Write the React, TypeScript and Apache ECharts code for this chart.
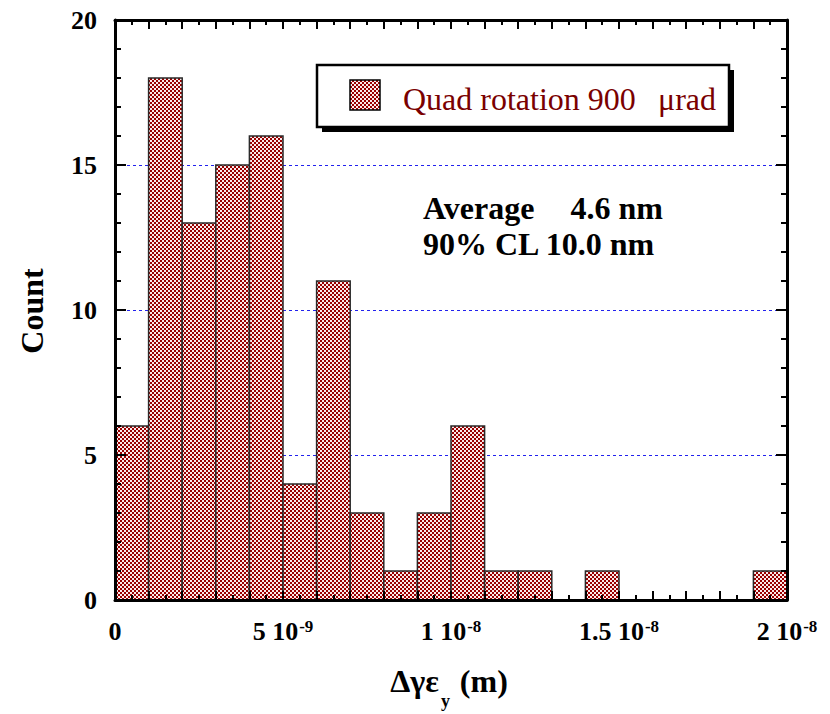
import React, { useEffect, useRef } from 'react';
import * as echarts from 'echarts';

// Bin starts in units of 1e-9 m; each bin is 1e-9 m wide
const binStart = [0, 1, 2, 3, 4, 5, 6, 7, 8, 9, 10, 11, 12, 13, 14, 15, 16, 17, 18, 19];
const binWidth = 1;
const counts = [6, 18, 13, 15, 16, 4, 11, 3, 1, 3, 6, 1, 1, 0, 1, 0, 0, 0, 0, 1];
const legendLabel = 'Quad rotation 900';
const legendUnit = 'μrad';
const statLabel1 = 'Average';
const statValue1 = '4.6 nm';
const statLine2 = '90% CL 10.0 nm';
const yTitle = 'Count';

const SERIF = "'Liberation Serif', 'Times New Roman', Times, serif";

function makePattern() {
  const c = document.createElement('canvas');
  c.width = 4;
  c.height = 4;
  const ctx = c.getContext('2d')!;
  ctx.fillStyle = '#fbeaea';
  ctx.fillRect(0, 0, 4, 4);
  ctx.fillStyle = '#990000';
  ctx.fillRect(0, 0, 2, 2);
  ctx.fillRect(2, 2, 2, 2);
  return { image: c.toDataURL(), repeat: 'repeat', imageWidth: 4, imageHeight: 4 } as any;
}

export default function App() {
  const ref = useRef<HTMLDivElement>(null);
  useEffect(() => {
    if (!ref.current) return;
    const chart = echarts.init(ref.current, null, { renderer: 'svg' });
    const pattern = makePattern();

    const frameAxisX = (pos: 'top' | 'bottom', labels: boolean) => ({
      type: 'value',
      position: pos,
      min: 0,
      max: 20,
      interval: 1,
      z: 10,
      axisLine: { show: true, onZero: false, lineStyle: { color: '#000', width: 3 } },
      axisTick: { show: true, inside: true, length: 9, lineStyle: { color: '#000', width: 2 } },
      minorTick: { show: true, splitNumber: 2, length: 5, lineStyle: { color: '#000', width: 2 } },
      splitLine: { show: false },
      axisLabel: labels
        ? {
            show: true,
            margin: 18,
            formatter: (v: number) => {
              const r = Math.round(v);
              if (r % 5 !== 0) return '';
              if (r === 0) return '{z|0}';
              if (r < 10) return `{n|${r} 10}{s|-9}`;
              return `{n|${r / 10} 10}{s|-8}`;
            },
            rich: {
              n: { fontFamily: SERIF, fontWeight: 'bold', fontSize: 26, lineHeight: 26, color: '#000', verticalAlign: 'bottom' },
              z: { fontFamily: SERIF, fontWeight: 'bold', fontSize: 26, lineHeight: 26, color: '#000', verticalAlign: 'bottom', padding: [5, 0, 0, 0] },
              s: { fontFamily: SERIF, fontWeight: 'bold', fontSize: 17, lineHeight: 17, color: '#000', verticalAlign: 'top', padding: [0, 0, 14, 1] },
            },
          }
        : { show: false },
    });

    const frameAxisY = (pos: 'left' | 'right', labels: boolean) => ({
      type: 'value',
      position: pos,
      min: 0,
      max: 20,
      interval: 5,
      z: 10,
      axisLine: { show: true, onZero: false, lineStyle: { color: '#000', width: 3 } },
      axisTick: { show: true, inside: true, length: 11, lineStyle: { color: '#000', width: 2 } },
      minorTick: { show: true, splitNumber: 5, length: 6, lineStyle: { color: '#000', width: 2 } },
      splitLine: { show: false },
      axisLabel: labels
        ? { show: true, margin: 18, fontFamily: SERIF, fontWeight: 'bold', fontSize: 26, color: '#000' }
        : { show: false },
    });

    const data = binStart
      .map((s, i) => [s, s + binWidth, counts[i]])
      .filter((d) => d[2] > 0);

    chart.setOption({
      animation: false,
      backgroundColor: '#fff',
      grid: { left: 115, top: 20, width: 672, height: 580, containLabel: false },
      xAxis: [frameAxisX('bottom', true), frameAxisX('top', false)],
      yAxis: [
        frameAxisY('left', true),
        frameAxisY('right', false),
        {
          type: 'value',
          position: 'left',
          min: 0,
          max: 20,
          interval: 5,
          z: 0,
          axisLine: { show: false },
          axisTick: { show: false },
          axisLabel: { show: false },
          splitLine: { show: true, lineStyle: { color: '#2222ee', width: 1, type: [3, 3] } },
        },
      ],
      series: [
        {
          type: 'custom',
          xAxisIndex: 0,
          yAxisIndex: 0,
          z: 2,
          data,
          encode: { x: [0, 1], y: 2 },
          renderItem: (params: any, api: any) => {
            const p0 = api.coord([api.value(0), api.value(2)]);
            const p1 = api.coord([api.value(1), 0]);
            return {
              type: 'rect',
              shape: { x: p0[0], y: p0[1], width: p1[0] - p0[0], height: p1[1] - p0[1] },
              style: { fill: pattern, stroke: '#2a2a2a', lineWidth: 1.5 },
            };
          },
        },
      ],
      graphic: [
        // legend shadow
        { type: 'rect', z: 100, shape: { x: 322, y: 70, width: 412, height: 62 }, style: { fill: '#000' } },
        { type: 'rect', z: 101, shape: { x: 317, y: 65, width: 412, height: 62 }, style: { fill: '#fff', stroke: '#000', lineWidth: 2.5 } },
        { type: 'rect', z: 102, shape: { x: 350, y: 80, width: 30, height: 30 }, style: { fill: pattern, stroke: '#000', lineWidth: 1.5 } },
        {
          type: 'text', z: 102, x: 403, y: 99,
          style: { text: legendLabel, font: `32px ${SERIF}`, fill: '#7a0000', align: 'left', verticalAlign: 'middle' },
        },
        {
          type: 'text', z: 102, x: 716, y: 99,
          style: { text: legendUnit, font: `32px ${SERIF}`, fill: '#7a0000', align: 'right', verticalAlign: 'middle' },
        },
        {
          type: 'text', z: 102, x: 423, y: 208,
          style: { text: statLabel1, font: `bold 32px ${SERIF}`, fill: '#000', align: 'left', verticalAlign: 'middle' },
        },
        {
          type: 'text', z: 102, x: 663, y: 208,
          style: { text: statValue1, font: `bold 32px ${SERIF}`, fill: '#000', align: 'right', verticalAlign: 'middle' },
        },
        {
          type: 'text', z: 102, x: 423, y: 244,
          style: { text: statLine2, font: `bold 32px ${SERIF}`, fill: '#000', align: 'left', verticalAlign: 'middle' },
        },
        {
          type: 'text', z: 102, x: 32, y: 311, rotation: Math.PI / 2,
          style: { text: yTitle, font: `bold 32px ${SERIF}`, fill: '#000', align: 'center', verticalAlign: 'middle' },
        },
        {
          type: 'text', z: 102, x: 449, y: 665,
          style: {
            text: '{n|Δγε}{s|y}{n| (m)}',
            align: 'center',
            verticalAlign: 'top',
            rich: {
              n: { fontFamily: SERIF, fontWeight: 'bold', fontSize: 32, lineHeight: 32, fill: '#000', verticalAlign: 'top' },
              s: { fontFamily: SERIF, fontWeight: 'bold', fontSize: 18, lineHeight: 18, fill: '#000', verticalAlign: 'top', padding: [27, 2, 0, 2] },
            },
          },
        },
      ],
    } as any);

    return () => chart.dispose();
  }, []);

  return <div ref={ref} style={{ position: 'absolute', left: 0, top: 0, width: 830, height: 714 }} />;
}
